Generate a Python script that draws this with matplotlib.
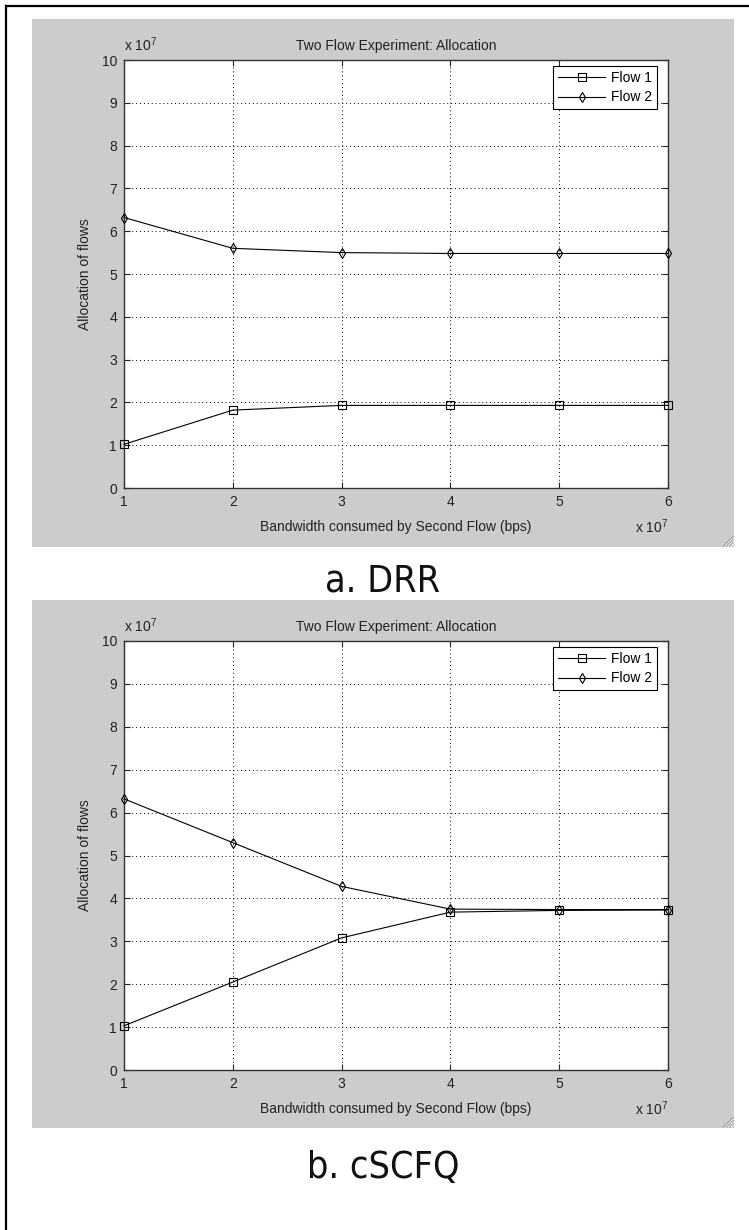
import matplotlib
matplotlib.use('Agg')
import matplotlib.pyplot as plt
from matplotlib.lines import Line2D
from matplotlib.patches import Rectangle

plt.rcParams['font.family'] = ['Liberation Sans', 'DejaVu Sans']
plt.rcParams['mathtext.fontset'] = 'custom'
plt.rcParams['mathtext.rm'] = 'Liberation Sans'
plt.rcParams['mathtext.it'] = 'Liberation Sans:italic'

# ---- data (values in units of 1e7) ----
x_vals = [1, 2, 3, 4, 5, 6]
x_ticks = [1, 2, 3, 4, 5, 6]
y_ticks = [0, 1, 2, 3, 4, 5, 6, 7, 8, 9, 10]
series_labels = ['Flow 1', 'Flow 2']
drr_flow1 = [1.02, 1.82, 1.93, 1.93, 1.93, 1.93]
drr_flow2 = [6.32, 5.60, 5.50, 5.48, 5.48, 5.48]
cscfq_flow1 = [1.03, 2.05, 3.08, 3.68, 3.72, 3.73]
cscfq_flow2 = [6.32, 5.30, 4.28, 3.75, 3.74, 3.74]
captions = ['a. DRR', 'b. cSCFQ']
title_text = 'Two Flow Experiment: Allocation'
xlabel_text = 'Bandwidth consumed by Second Flow (bps)'
ylabel_text = 'Allocation of flows'

W, H = 749, 1230
fig = plt.figure(figsize=(W / 100, H / 100), dpi=100)
fig.patch.set_facecolor('white')


def fx(x):
    return x / W


def fy(y):
    return 1 - y / H


# outer frame (only top and left visible)
fig.add_artist(Line2D([fx(6), fx(749)], [fy(6), fy(6)], transform=fig.transFigure, color='k', lw=1.6))
fig.add_artist(Line2D([fx(6), fx(6)], [fy(6), fy(1230)], transform=fig.transFigure, color='k', lw=1.6))

panels = [
    dict(gray=(32, 19, 734, 547), axb=(124, 60, 668, 488), cap_y=582,
         f1=drr_flow1, f2=drr_flow2, caption=captions[0]),
    dict(gray=(32, 600, 734, 1128), axb=(124, 641, 668, 1070), cap_y=1168,
         f1=cscfq_flow1, f2=cscfq_flow2, caption=captions[1]),
]

for p in panels:
    gx0, gy0, gx1, gy1 = p['gray']
    fig.add_artist(Rectangle((fx(gx0), fy(gy1)), (gx1 - gx0) / W, (gy1 - gy0) / H,
                             transform=fig.transFigure, facecolor='#cccccc',
                             edgecolor='none', zorder=0))
    # resize grip
    for k, c in enumerate(['#ffffff', '#888888', '#ffffff', '#888888', '#ffffff', '#888888']):
        off = 3 + k * 1.5
        fig.add_artist(Line2D([fx(gx1 - off), fx(gx1 - 1)], [fy(gy1 - 1), fy(gy1 - off)],
                              transform=fig.transFigure, color=c, lw=0.6))

    ax0, ay0, ax1, ay1 = p['axb']
    ax = fig.add_axes([fx(ax0), fy(ay1), (ax1 - ax0) / W, (ay1 - ay0) / H])
    ax.set_facecolor('white')
    ax.plot(x_vals, p['f1'], '-s', color='k', mfc='none', ms=5.5, mew=0.8, lw=0.8,
            label=series_labels[0], clip_on=False, zorder=3)
    ax.plot(x_vals, p['f2'], '-d', color='k', mfc='none', ms=5, mew=0.8, lw=0.8,
            label=series_labels[1], clip_on=False, zorder=3)
    ax.set_xlim(1, 6)
    ax.set_ylim(0, 10)
    ax.set_xticks(x_ticks)
    ax.set_yticks(y_ticks)
    ax.set_xticklabels([str(t) for t in x_ticks])
    ax.set_yticklabels([str(t) for t in y_ticks])
    ax.grid(True, color='k', linestyle=(0, (1, 3)), lw=0.7)
    ax.tick_params(direction='in', length=4, width=0.8, top=True, right=True,
                   labelsize=10, pad=5, colors='#222222')
    for s in ax.spines.values():
        s.set_color('#333333')
        s.set_linewidth(1.0)
    ax.set_title(title_text, fontsize=10, pad=7, color='#222222')
    ax.set_xlabel(xlabel_text, fontsize=10, labelpad=8, color='#222222')
    ax.set_ylabel(ylabel_text, fontsize=10, labelpad=7, color='#222222')
    ax.annotate('x 10$^{7}$', xy=(0, 1), xycoords='axes fraction', xytext=(0, 4),
                textcoords='offset points', ha='left', va='bottom', fontsize=10, color='#222222')
    ax.annotate('x 10$^{7}$', xy=(1, 0), xycoords='axes fraction', xytext=(0, -28),
                textcoords='offset points', ha='right', va='center', fontsize=10, color='#222222')
    leg = ax.legend(loc='upper right', bbox_to_anchor=(1 - 11 / 544, 1 - 6 / 428),
                    borderaxespad=0, fancybox=False, framealpha=1, edgecolor='k',
                    fontsize=10, handlelength=3.4, handletextpad=0.4,
                    labelspacing=0.4, borderpad=0.35)
    leg.get_frame().set_linewidth(0.8)

    fig.text(fx((gx0 + gx1) / 2), fy(p['cap_y']), p['caption'], ha='center', va='center',
             fontsize=27, family=['DejaVu Sans'], stretch='condensed', color='#111111')

fig.savefig('out.png', dpi=100, facecolor='white')
